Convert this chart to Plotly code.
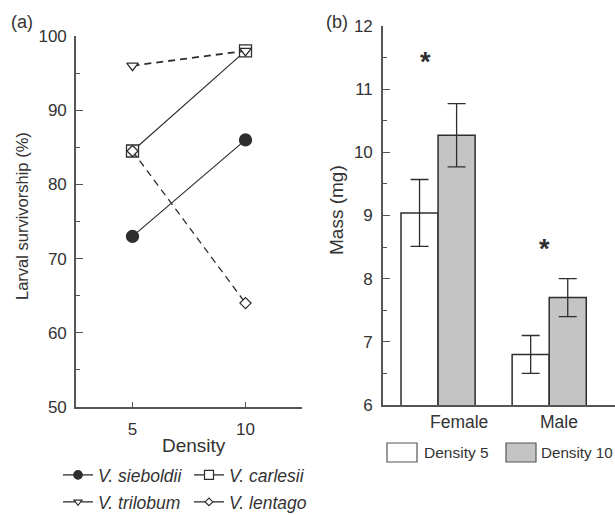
import plotly.graph_objects as go

# ---------------- data ----------------
density = [5, 10]
sieboldii = [73, 86]
carlesii = [84.5, 98]
trilobum = [96, 98]
lentago = [84.5, 64]

sex = ["Female", "Male"]
mass_d5 = [9.04, 6.8]
err_d5 = [0.53, 0.3]
mass_d10 = [10.27, 7.7]
err_d10 = [0.5, 0.3]
sig_y = [11.5, 8.53]          # asterisk heights
sig_dx = [-0.11, -0.04]       # asterisk x offset from group centre

W, H = 615, 515
FONT = "Liberation Sans, Arial, Helvetica, sans-serif"
TXT = "#333333"
AX = "#555555"
DARK = "#2e2e2e"
GRAY = "#c4c4c4"

def px(x):
    return x / W

def py(y):
    return 1 - y / H

fig = go.Figure()

# ---------------- panel (a) ----------------
species = [
    ("V. sieboldii", sieboldii, "circle", DARK, 12, "solid", 1.2, 8.5, "legend"),
    ("V. carlesii", carlesii, "square", "white", 12, "solid", 1.2, 9, "legend"),
    ("V. trilobum", trilobum, "triangle-down", "white", 10, "7px,5px", 1.8, 7, "legend2"),
    ("V. lentago", lentago, "diamond", "white", 8.5, "7px,5px", 1.3, 6, "legend2"),
]
for name, vals, sym, fill, size, dash, lw, lsize, leg in species:
    fig.add_trace(go.Scatter(
        x=density, y=vals, mode="lines+markers", name=name,
        line=dict(color=DARK, width=lw, dash=dash),
        marker=dict(symbol=sym, size=size, color=fill,
                    line=dict(color=DARK, width=1.3)),
        xaxis="x", yaxis="y", showlegend=False, cliponaxis=False,
    ))
    # legend entry (smaller symbol, as in the reference)
    fig.add_trace(go.Scatter(
        x=[None], y=[None], mode="lines+markers", name=name,
        line=dict(color=DARK, width=1.3),
        marker=dict(symbol=sym, size=lsize, color=fill,
                    line=dict(color=DARK, width=1.2)),
        xaxis="x", yaxis="y", showlegend=True, legend=leg,
    ))

# ---------------- panel (b) ----------------
xpos = list(range(len(sex)))
fig.add_trace(go.Bar(
    x=xpos, y=mass_d5, name="Density 5", xaxis="x2", yaxis="y2",
    marker=dict(color="white", line=dict(color=DARK, width=1.5)),
    error_y=dict(type="data", array=err_d5, color=DARK, thickness=1.3, width=9),
    showlegend=False,
))
fig.add_trace(go.Bar(
    x=xpos, y=mass_d10, name="Density 10", xaxis="x2", yaxis="y2",
    marker=dict(color=GRAY, line=dict(color=DARK, width=1.5)),
    error_y=dict(type="data", array=err_d10, color=DARK, thickness=1.3, width=9),
    showlegend=False,
))

annotations = []
# asterisks
for i, yv in enumerate(sig_y):
    annotations.append(dict(
        x=xpos[i] + sig_dx[i], y=yv, xref="x2", yref="y2", text="<b>*</b>",
        showarrow=False, font=dict(family=FONT, size=27, color=DARK),
        yshift=-4,
    ))
# category labels (Female / Male)
label_dx = [0.19, 0.09]
for i, s in enumerate(sex):
    annotations.append(dict(
        x=xpos[i] + label_dx[i], y=py(422), xref="x2", yref="paper", text=s,
        showarrow=False, font=dict(family=FONT, size=17.5, color=TXT),
        xanchor="center", yanchor="middle",
    ))

# panel letters and axis titles
annotations += [
    dict(x=px(22), y=py(22), xref="paper", yref="paper", text="(a)", showarrow=False,
         font=dict(family=FONT, size=18, color=TXT), xanchor="center", yanchor="middle"),
    dict(x=px(337), y=py(22), xref="paper", yref="paper", text="(b)", showarrow=False,
         font=dict(family=FONT, size=18, color=TXT), xanchor="center", yanchor="middle"),
    dict(x=px(22), y=py(216), xref="paper", yref="paper", text="Larval survivorship (%)",
         showarrow=False, textangle=-90, font=dict(family=FONT, size=16.5, color=TXT),
         xanchor="center", yanchor="middle"),
    dict(x=px(194), y=py(445), xref="paper", yref="paper", text="Density",
         showarrow=False, font=dict(family=FONT, size=19, color=TXT),
         xanchor="center", yanchor="middle"),
    dict(x=px(336), y=py(210), xref="paper", yref="paper", text="Mass (mg)",
         showarrow=False, textangle=-90, font=dict(family=FONT, size=19, color=TXT),
         xanchor="center", yanchor="middle"),
    dict(x=px(422), y=py(452), xref="paper", yref="paper", text="Density 5",
         showarrow=False, font=dict(family=FONT, size=15.5, color=TXT),
         xanchor="left", yanchor="middle"),
    dict(x=px(539), y=py(452), xref="paper", yref="paper", text="Density 10",
         showarrow=False, font=dict(family=FONT, size=15.2, color=TXT),
         xanchor="left", yanchor="middle"),
]

shapes = [
    dict(type="rect", xref="paper", yref="paper", x0=px(387), x1=px(417),
         y0=py(462), y1=py(443), fillcolor="white", line=dict(color=AX, width=1.2)),
    dict(type="rect", xref="paper", yref="paper", x0=px(506), x1=px(536),
         y0=py(462), y1=py(443), fillcolor=GRAY, line=dict(color=AX, width=1.2)),
]

axis_common = dict(showgrid=False, zeroline=False, showline=True, linecolor=AX,
                   linewidth=1.6, tickcolor=AX, tickwidth=1.3,
                   tickfont=dict(family=FONT, size=17, color=TXT))

legend_common = dict(orientation="h", xanchor="left", yanchor="middle",
                     font=dict(family=FONT, size=17.5, color=TXT, style="italic"),
                     bgcolor="rgba(0,0,0,0)", entrywidth=86, entrywidthmode="pixels",
                     itemclick=False, itemdoubleclick=False)

fig.update_layout(
    width=W, height=H,
    margin=dict(l=0, r=0, t=0, b=0, autoexpand=False),
    paper_bgcolor="white", plot_bgcolor="white",
    font=dict(family=FONT, color=TXT),
    barmode="group", bargap=0.333, bargroupgap=0,
    xaxis=dict(domain=[px(76), px(302)], range=[2.5, 12.5], tickvals=density,
               ticks="inside", ticklen=5, ticklabelstandoff=6, anchor="y",
               **axis_common),
    yaxis=dict(domain=[py(407), py(36)], range=[50, 100], dtick=10,
               ticks="inside", ticklen=7, ticklabelstandoff=4, anchor="x",
               minor=dict(ticks="inside", ticklen=4, dtick=5, tickcolor=AX),
               **axis_common),
    xaxis2=dict(domain=[px(383), 1.0], range=[-0.4955, 1.592],
                showticklabels=False, ticks="", anchor="y2", **axis_common),
    yaxis2=dict(domain=[py(405), py(26)], range=[6, 12], dtick=1,
                ticks="inside", ticklen=7, ticklabelstandoff=5, anchor="x2",
                minor=dict(ticks="inside", ticklen=4, dtick=0.5, tickcolor=AX),
                **axis_common),
    legend=dict(x=px(58), y=py(475), **legend_common),
    legend2=dict(x=px(58), y=py(502), **legend_common),
    annotations=annotations,
    shapes=shapes,
)

# remove the browser's default 8px page margin so the 615x515 figure fills the window
fig.write_html("out.html", config={"displayModeBar": False},
               post_script="document.body.style.margin='0';")
